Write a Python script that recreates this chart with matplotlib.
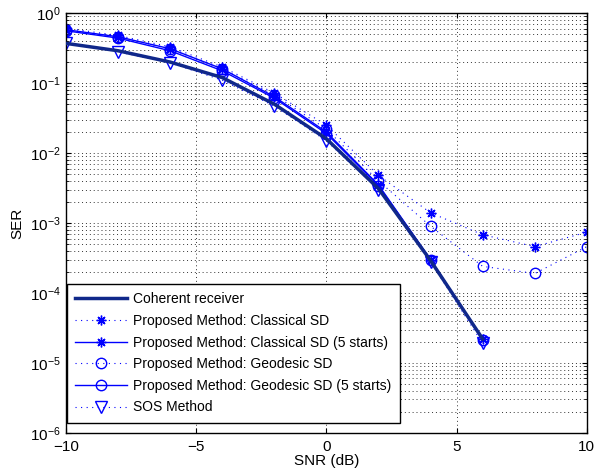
import matplotlib
matplotlib.use("Agg")
import matplotlib.pyplot as plt
from matplotlib.ticker import LogLocator, FixedLocator, NullFormatter

plt.rcParams['font.family'] = ['Liberation Sans', 'DejaVu Sans']
plt.rcParams['mathtext.fontset'] = 'custom'
plt.rcParams['mathtext.rm'] = 'Liberation Sans'
plt.rcParams['mathtext.it'] = 'Liberation Sans'

snr = [-10, -8, -6, -4, -2, 0, 2, 4, 6, 8, 10]
snr_short = [-10, -8, -6, -4, -2, 0, 2, 4, 6]

coherent = [0.37, 0.29, 0.20, 0.12, 0.050, 0.016, 0.0031, 0.00029, 0.000022]
classical = [0.61, 0.48, 0.33, 0.17, 0.072, 0.025, 0.0048, 0.0014, 0.00068, 0.00046, 0.00074]
classical5 = [0.58, 0.46, 0.31, 0.16, 0.064, 0.020, 0.0035, 0.00030, 0.000022]
geodesic = [0.58, 0.46, 0.31, 0.16, 0.068, 0.022, 0.0040, 0.00090, 0.00024, 0.00019, 0.00046]
geodesic5 = [0.56, 0.44, 0.29, 0.15, 0.061, 0.019, 0.0034, 0.00030, 0.000021]
sos = [0.38, 0.28, 0.195, 0.11, 0.047, 0.015, 0.0030, 0.00028, 0.000019]

labels = ['Coherent receiver',
          'Proposed Method: Classical SD',
          'Proposed Method: Classical SD (5 starts)',
          'Proposed Method: Geodesic SD',
          'Proposed Method: Geodesic SD (5 starts)',
          'SOS Method']

fig = plt.figure(figsize=(5.94, 4.70), dpi=100)
ax = fig.add_axes([0.111, 0.079, 0.877, 0.893])

blue = '#0000ff'
dot = (0, (1, 4))
star = (8, 2, 0)
ax.plot(snr_short, coherent, '-', color='#10288a', lw=2.5, label=labels[0], zorder=3)
ax.plot(snr, classical, linestyle=dot, color=blue, lw=0.8, marker=star, ms=7, mew=1.0, label=labels[1])
ax.plot(snr_short, classical5, '-', color=blue, lw=1.0, marker=star, ms=7, mew=1.0, label=labels[2])
ax.plot(snr, geodesic, linestyle=dot, color=blue, lw=0.8, marker='o', ms=7.5, mfc='none', mew=1.0, label=labels[3])
ax.plot(snr_short, geodesic5, '-', color=blue, lw=1.0, marker='o', ms=7.5, mfc='none', mew=1.0, label=labels[4])
ax.plot(snr_short, sos, linestyle=dot, color=blue, lw=0.8, marker='v', ms=8, mfc='none', mew=1.0, label=labels[5])

ax.set_yscale('log')
ax.set_xlim(-10, 10)
ax.set_ylim(1e-6, 1)
ax.xaxis.set_major_locator(FixedLocator([-10, -5, 0, 5, 10]))
ax.set_xticklabels(['\u221210', '\u22125', '0', '5', '10'])
ax.yaxis.set_major_locator(LogLocator(base=10, numticks=10))
ax.yaxis.set_minor_locator(LogLocator(base=10, subs=range(2, 10), numticks=20))
ax.yaxis.set_minor_formatter(NullFormatter())

ax.grid(True, which='major', linestyle=(0, (1, 3)), color='#333333', lw=0.7)
ax.grid(True, which='minor', axis='y', linestyle=(0, (1, 3)), color='#333333', lw=0.7)
ax.tick_params(direction='in', which='both', top=True, right=True, labelsize=11)
ax.tick_params(axis='x', pad=5)
ax.tick_params(which='minor', length=2)
for s in ax.spines.values():
    s.set_linewidth(1.0)

ax.set_xlabel('SNR (dB)', fontsize=11, labelpad=0)
ax.set_ylabel('SER', fontsize=11, labelpad=4)

leg = ax.legend(loc='lower left', bbox_to_anchor=(0.002, 0.024), fontsize=10,
                fancybox=False, framealpha=1, edgecolor='black', borderpad=0.6,
                labelspacing=0.55, handlelength=3.7, handletextpad=0.45, borderaxespad=0)
leg.get_frame().set_linewidth(1.0)

fig.savefig('out.png', dpi=100)
